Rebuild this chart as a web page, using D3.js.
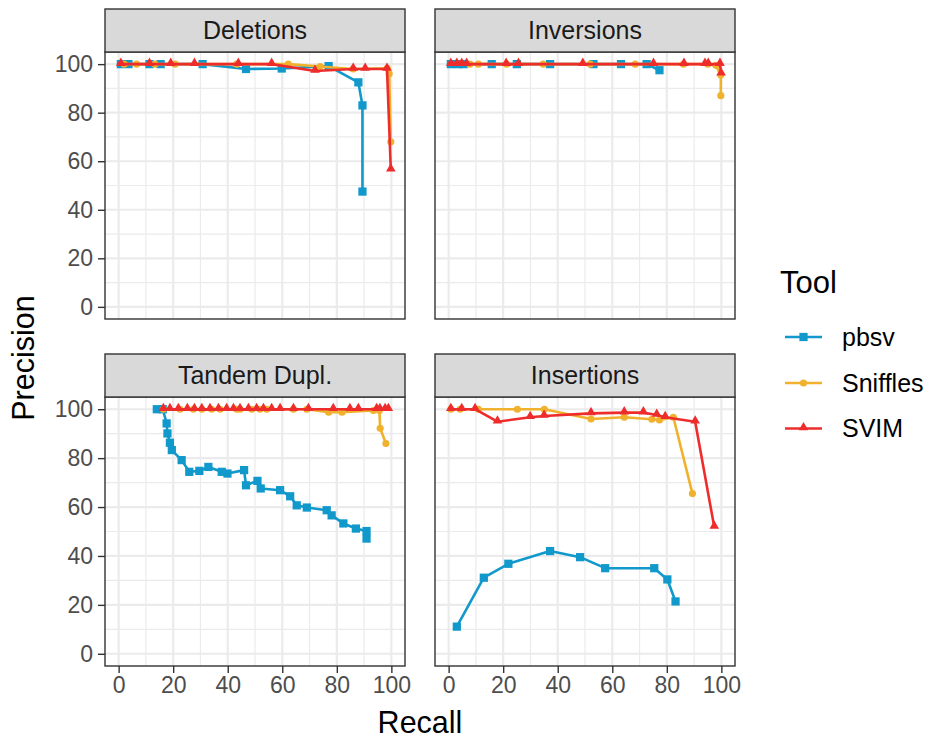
<!DOCTYPE html>
<html><head><meta charset="utf-8">
<script src="https://cdn.jsdelivr.net/npm/d3@7"></script>
<style>body{margin:0;background:#fff} svg{display:block;font-family:"Liberation Sans",Arial,Helvetica,sans-serif}</style>
</head><body><svg id="c" width="926" height="740"></svg>
<script>
const facets = ["Deletions", "Inversions", "Tandem Dupl.", "Insertions"];
const tools = ["pbsv", "Sniffles", "SVIM"];
const toolColors = ["#1199CC", "#F0B12C", "#EE2C2C"];
const xTicks = [0, 20, 40, 60, 80, 100];
const yTicks = [0, 20, 40, 60, 80, 100];
const minorTicks = [10, 30, 50, 70, 90];

// [recall, precision]
const deletionsPbsv = [[0.8,100],[3.6,100],[11.3,100],[15.4,100],[30.8,100],[46.7,98],[59.8,98.2],[77,99.2],[87.9,92.5],[89.4,83],[89.4,47.5]];
const deletionsSniffles = [[2,100],[6.6,100],[13.3,100],[20.7,100],[43.3,100],[62.2,100],[73.9,99],[86,98],[98.5,98.3],[99.2,96],[99.8,68]];
const deletionsSvim = [[0.8,100],[11.3,100],[19.1,100],[27.8,100],[43.9,100],[56.1,100],[72,97.2],[86,98],[90.4,98],[98.4,98],[99.8,56.5]];

const inversionsPbsv = [[0.8,100],[3.5,100],[5.5,100],[15.8,100],[25,100],[37.2,100],[53.1,100],[63.2,100],[72.6,100],[77.3,97.5]];
const inversionsSniffles = [[7.8,100],[10.9,100],[21.3,100],[34.7,100],[51.9,100],[68.4,100],[86.1,100],[95,100],[98,99.5],[99.8,95.5],[99.8,87]];
const inversionsSvim = [[0.8,100],[3,100],[4.8,100],[6.6,100],[21.1,100],[25.6,100],[49.2,100],[75.1,100],[86.3,100],[94,100],[95.2,100],[99.5,100],[99.9,96]];

const tandemPbsv = [[14,100],[16.2,100],[17.6,94.2],[17.9,90.1],[18.8,86.3],[19.5,83.3],[23.1,79.2],[25.9,74.4],[29.6,74.8],[32.9,76.4],[37.8,74.4],[39.9,73.7],[46,75.1],[46.7,68.9],[50.9,70.7],[52.1,67.6],[59.2,66.9],[62.9,64.4],[65.3,60.7],[69,59.8],[76.3,58.7],[78.1,56.6],[82.4,53.3],[87,51.2],[90.9,50.2],[90.9,47.1]];
const tandemSniffles = [[16.4,100],[22.5,100],[27.4,100],[30.5,100],[34.1,100],[37.2,100],[43.3,100],[44.5,100],[48.8,100],[51.8,100],[54.3,100],[64.1,100],[69,100],[77,98.8],[81.9,98.8],[93.4,99.5],[95.6,99.5],[95.9,92.2],[98,86]];
const tandemSvim = [[16.4,100],[18.8,100],[21.9,100],[25.2,100],[27.8,100],[30.5,100],[33.5,100],[36.6,100],[39.6,100],[42.1,100],[44.5,100],[47.6,100],[50.6,100],[53.1,100],[56.1,100],[59.2,100],[64.1,100],[69.6,100],[78.7,100],[84.8,100],[87.9,100],[94.6,100],[95.8,100],[97.7,100],[98.9,100]];

const insertionsPbsv = [[3,11.1],[12.9,31.1],[21.9,36.8],[37.2,42],[48.2,39.5],[57.4,35],[75.4,35],[80.2,30.4],[83.2,21.4]];
const insertionsSniffles = [[0.8,100],[4.2,100],[10.9,100],[25.2,100],[35.1,100],[52.2,96],[64.4,96.7],[74.5,95.9],[77.3,95.6],[82.4,96.7],[89.4,65.5]];
const insertionsSvim = [[0.8,100],[4.8,100],[9.7,100],[17.9,94.9],[29.9,96.7],[35,97.2],[52.2,98.3],[64.4,98.6],[71.4,98.6],[76.3,97.6],[79.4,96.7],[90.4,94.9],[97.4,51.8]];

const facetData = [
  [deletionsPbsv, deletionsSniffles, deletionsSvim],
  [inversionsPbsv, inversionsSniffles, inversionsSvim],
  [tandemPbsv, tandemSniffles, tandemSvim],
  [insertionsPbsv, insertionsSniffles, insertionsSvim]
];

const svg = d3.select("#c");
const colX = [[105, 405], [435, 735]];
const rowY = [[52, 319], [397, 666]];
const stripH = 43;
const symbols = [d3.symbolSquare, d3.symbolCircle, d3.symbolTriangle];
const symSizes = [68, 40, 40];

facets.forEach((name, i) => {
  const c = i % 2, r = Math.floor(i / 2);
  const [x0, x1] = colX[c], [y0, y1] = rowY[r];
  const x = d3.scaleLinear().domain([-5, 105]).range([x0, x1]);
  const y = d3.scaleLinear().domain([-5, 105]).range([y1, y0]);
  const g = svg.append("g");
  g.append("rect").attr("x", x0).attr("y", y0).attr("width", x1 - x0).attr("height", y1 - y0).attr("fill", "#fff");
  minorTicks.forEach(t => {
    g.append("line").attr("x1", x(t)).attr("x2", x(t)).attr("y1", y0).attr("y2", y1).attr("stroke", "#EBEBEB").attr("stroke-width", 1.2);
    g.append("line").attr("y1", y(t)).attr("y2", y(t)).attr("x1", x0).attr("x2", x1).attr("stroke", "#EBEBEB").attr("stroke-width", 1.2);
  });
  xTicks.forEach(t => g.append("line").attr("x1", x(t)).attr("x2", x(t)).attr("y1", y0).attr("y2", y1).attr("stroke", "#EBEBEB").attr("stroke-width", 2.2));
  yTicks.forEach(t => g.append("line").attr("y1", y(t)).attr("y2", y(t)).attr("x1", x0).attr("x2", x1).attr("stroke", "#EBEBEB").attr("stroke-width", 2.2));

  const line = d3.line().x(d => x(d[0])).y(d => y(d[1]));
  facetData[i].forEach((pts, k) => {
    g.append("path").datum(pts).attr("d", line).attr("fill", "none").attr("stroke", toolColors[k]).attr("stroke-width", 2.6).attr("stroke-linejoin", "round");
    g.selectAll(null).data(pts).enter().append("path")
      .attr("d", d3.symbol().type(symbols[k]).size(symSizes[k]))
      .attr("transform", d => `translate(${x(d[0])},${y(d[1]) + (k === 2 ? -1 : 0)})`)
      .attr("fill", toolColors[k]);
  });

  g.append("rect").attr("x", x0).attr("y", y0).attr("width", x1 - x0).attr("height", y1 - y0).attr("fill", "none").attr("stroke", "#333").attr("stroke-width", 1.4);
  g.append("rect").attr("x", x0).attr("y", y0 - stripH).attr("width", x1 - x0).attr("height", stripH).attr("fill", "#D9D9D9").attr("stroke", "#333").attr("stroke-width", 1.4);
  g.append("text").attr("x", (x0 + x1) / 2).attr("y", y0 - stripH / 2).attr("dy", "0.35em").attr("text-anchor", "middle").attr("font-size", 25).attr("fill", "#1A1A1A").text(name);

  if (c === 0) {
    const ax = g.append("g").attr("transform", `translate(${x0},0)`).call(d3.axisLeft(y).tickValues(yTicks).tickSize(7).tickPadding(5));
    ax.select(".domain").remove();
    ax.selectAll("line").attr("stroke", "#333").attr("stroke-width", 1.4);
    ax.selectAll("text").attr("fill", "#4D4D4D").attr("font-size", 23).attr("font-family", "Liberation Sans, Arial, sans-serif");
  }
  if (r === 1) {
    const ax = g.append("g").attr("transform", `translate(0,${y1})`).call(d3.axisBottom(x).tickValues(xTicks).tickSize(7).tickPadding(4));
    ax.select(".domain").remove();
    ax.selectAll("line").attr("stroke", "#333").attr("stroke-width", 1.4);
    ax.selectAll("text").attr("fill", "#4D4D4D").attr("font-size", 23).attr("font-family", "Liberation Sans, Arial, sans-serif");
  }
});

svg.append("text").attr("transform", "translate(33.5,358) rotate(-90)").attr("text-anchor", "middle").attr("font-size", 30.5).attr("fill", "#000").text("Precision");
svg.append("text").attr("x", 420).attr("y", 733).attr("text-anchor", "middle").attr("font-size", 30.5).attr("fill", "#000").text("Recall");

// legend
svg.append("text").attr("x", 780).attr("y", 293).attr("font-size", 31).attr("fill", "#000").text("Tool");
const legY = [337, 383, 428.5];
tools.forEach((t, k) => {
  svg.append("line").attr("x1", 785).attr("x2", 822).attr("y1", legY[k]).attr("y2", legY[k]).attr("stroke", toolColors[k]).attr("stroke-width", 2.6);
  svg.append("path").attr("d", d3.symbol().type(symbols[k]).size(symSizes[k])).attr("transform", `translate(803.5,${legY[k] + (k === 2 ? -1 : 0)})`).attr("fill", toolColors[k]);
  svg.append("text").attr("x", 842).attr("y", legY[k]).attr("dy", "0.35em").attr("font-size", 25).attr("fill", "#000").text(t);
});
</script></body></html>
